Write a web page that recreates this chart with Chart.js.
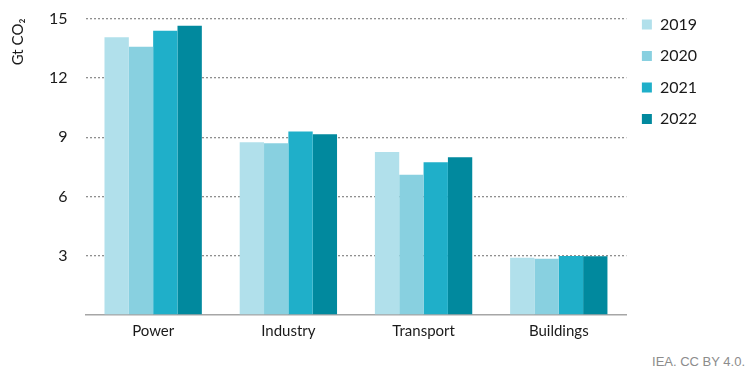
<!DOCTYPE html>
<html>
<head>
<meta charset="utf-8">
<script src="https://cdn.jsdelivr.net/npm/chart.js@4.4.1/dist/chart.umd.min.js"></script>
<style>
  html, body { margin: 0; padding: 0; background: #fff; }
  #wrap { position: relative; width: 750px; height: 375px; }
  #chartBox { position: absolute; left: 0; top: 0; width: 750px; height: 347px; }
  #source { position: absolute; right: 5px; top: 354px; font: 13px "Liberation Sans", Arial, sans-serif; color: #8c8c8c; }
</style>
</head>
<body>
<div id="wrap">
  <div id="chartBox"><canvas id="co2Chart"></canvas></div>
  <div id="source">IEA. CC BY 4.0.</div>
</div>
<script>
// Emissions par secteur (Gt CO2)
var sectors = ["Power", "Industry", "Transport", "Buildings"];
var years = ["2019", "2020", "2021", "2022"];
var em2019 = [14.05, 8.74, 8.25, 2.90];
var em2020 = [13.57, 8.69, 7.10, 2.85];
var em2021 = [14.39, 9.29, 7.73, 2.98];
var em2022 = [14.64, 9.15, 7.98, 2.97];
var yTicks = [3, 6, 9, 12, 15];

var colors = ["#b1e0eb", "#88d0e0", "#1fafc9", "#01899e"];
var series = [em2019, em2020, em2021, em2022];

var ctx = document.getElementById("co2Chart").getContext("2d");

var myChart = new Chart(ctx, {
  type: "bar",
  data: {
    labels: sectors,
    datasets: series.map(function (vals, i) {
      return {
        label: years[i],
        data: vals,
        backgroundColor: colors[i],
        borderWidth: 0,
        categoryPercentage: 0.72,
        barPercentage: 1.0
      };
    })
  },
  options: {
    responsive: true,
    maintainAspectRatio: false,
    animation: false,
    layout: {
      padding: { left: 9, right: 43, top: 1, bottom: 0 }
    },
    plugins: {
      tooltip: { enabled: false },
      legend: {
        position: "right",
        align: "start",
        labels: {
          color: "#1a1a1a",
          font: { family: "Lato, 'Open Sans', sans-serif", size: 16 },
          boxWidth: 10,
          boxHeight: 10,
          padding: 15.5
        }
      }
    },
    scales: {
      x: {
        grid: { display: false, drawTicks: false },
        border: { display: true, color: "#a6a6a6", width: 1.5 },
        ticks: {
          color: "#1a1a1a",
          font: { family: "Lato, 'Open Sans', sans-serif", size: 15 },
          padding: 7
        }
      },
      y: {
        min: 0,
        max: 15,
        afterBuildTicks: function (axis) {
          axis.ticks = [0].concat(yTicks).map(function (v) { return { value: v }; });
        },
        grid: {
          drawTicks: true,
          tickLength: 9,
          tickColor: "rgba(0,0,0,0)",
          lineWidth: 1.3,
          color: function (c) { return c.tick && c.tick.value === 0 ? "rgba(0,0,0,0)" : "#8f8f8f"; }
        },
        border: { display: false, dash: [2, 2] },
        ticks: {
          color: "#1a1a1a",
          font: { family: "Lato, 'Open Sans', sans-serif", size: 16 },
          padding: 9,
          callback: function (v) { return v === 0 ? "" : v; }
        },
        title: {
          display: true,
          text: "Gt CO₂",
          align: "end",
          color: "#1a1a1a",
          font: { family: "Lato, 'Open Sans', sans-serif", size: 15 },
          padding: { top: 0, bottom: 13 }
        }
      }
    }
  }
});
</script>
</body>
</html>
